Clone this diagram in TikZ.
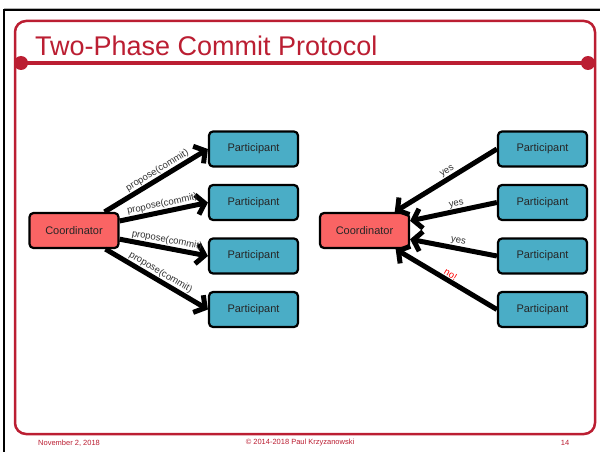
\documentclass[tikz,border=0pt]{standalone}
\usepackage{fontspec}
\setmainfont{Liberation Sans}
\usetikzlibrary{arrows.meta}
\definecolor{framered}{HTML}{BB1E32}
\definecolor{coordfill}{HTML}{FA6464}
\definecolor{partfill}{HTML}{4AADC6}
\definecolor{labelgray}{HTML}{333333}
\tikzset{
  box/.style={draw=black, line width=2.2pt, rounded corners=4pt,
    minimum width=89pt, minimum height=35pt, inner sep=0pt,
    font=\fontsize{11}{13}\selectfont, text=black!85},
  coordbox/.style={box, fill=coordfill},
  partbox/.style={box, fill=partfill},
  msg/.style={line width=5pt, black},
  tipend/.style={-{Straight Barb[length=8pt,width=20pt]}},
  tipstart/.style={{Straight Barb[length=8pt,width=20pt]}-},
  lbl/.style={sloped, above, inner sep=0.8pt, text=labelgray,
    font=\fontsize{9.5}{11}\selectfont},
  footer/.style={text=framered, font=\fontsize{7.5}{9}\selectfont, inner sep=0pt}
}
\begin{document}
\begin{tikzpicture}[x=1pt,y=-1pt]
\useasboundingbox (0,0) rectangle (600,452);
\fill[white] (0,0) rectangle (600,452);

% slide frame
\draw[black!30, line width=0.8pt] (4,8) -- (600,8);
\draw[black, line width=2pt] (600,10) -- (4,10) -- (4,452);
\draw[framered, line width=2.5pt, rounded corners=11pt] (15,21) rectangle (595,434);
\draw[framered, line width=4pt] (21,63) -- (588,63);
\fill[framered] (21,63) circle (7);
\fill[framered] (588,63) circle (7);
\node[anchor=base west, inner sep=0pt, text=framered,
  font=\fontsize{27}{30}\selectfont] (title) at (35,56) {Two-Phase Commit Protocol};

% footer
\node[footer, anchor=west] (date) at (38,443) {November 2, 2018};
\node[footer] (copy) at (300,443) {© 2014-2018 Paul Krzyzanowski};
\node[footer] (page) at (565,443) {14};

% phase one: proposal
\node[coordbox] (c1) at (74,230.5) {Coordinator};
\node[partbox] (p1) at (253.5,149) {Participant};
\node[partbox] (p2) at (253.5,202.5) {Participant};
\node[partbox] (p3) at (253.5,256) {Participant};
\node[partbox] (p4) at (253.5,309.5) {Participant};

\draw[msg, tipend] (c1) -- (p1.west) node[lbl, pos=0.55] {propose(commit)};
\draw[msg, tipend] (c1) -- (p2.west) node[lbl, pos=0.5] {propose(commit)};
\draw[msg, tipend] (c1) -- (p3.west) node[lbl, pos=0.52] {propose(commit)};
\draw[msg, tipend] (c1) -- (p4.west) node[lbl, pos=0.5] {propose(commit)};

% phase one: votes
\node[coordbox] (c2) at (364.5,230.5) {Coordinator};
\node[partbox] (q1) at (542.5,149) {Participant};
\node[partbox] (q2) at (542.5,202.5) {Participant};
\node[partbox] (q3) at (542.5,256) {Participant};
\node[partbox] (q4) at (542.5,309.5) {Participant};

\draw[msg, tipstart] (c2) -- (q1.west) node[lbl, pos=0.55] {yes};
\draw[msg, tipstart] (c2) -- (q2.west) node[lbl, pos=0.55] {yes};
\draw[msg, tipstart] (c2) -- (q3.west) node[lbl, pos=0.54] {yes};
\draw[msg, tipstart] (c2) -- (q4.west) node[lbl, pos=0.51, text=red] {no!};
\end{tikzpicture}
\end{document}
